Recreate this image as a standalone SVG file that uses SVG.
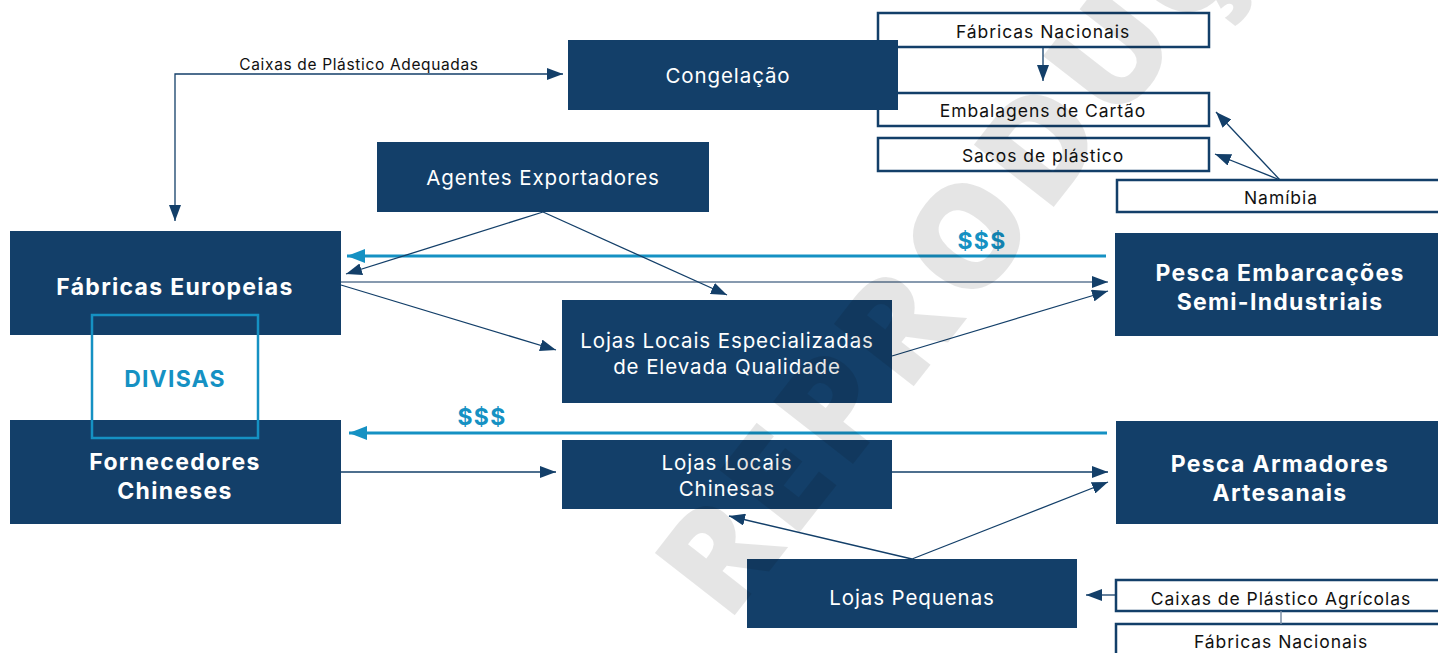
<svg xmlns="http://www.w3.org/2000/svg" width="1438" height="653" viewBox="0 0 1438 653">
<style>
text{font-family:Inter,"Open Sans","Liberation Sans",sans-serif;text-anchor:middle;dominant-baseline:central}
.dk{fill:#133f69}
.wb{fill:#fff;stroke:#133f69;stroke-width:2.5}
.t{fill:#fff;font-size:20.5px;letter-spacing:0.9px}
.tb{fill:#fff;font-size:23px;font-weight:700;letter-spacing:1.3px}
.s{fill:#111;font-size:17.5px;letter-spacing:0.95px}
.c{fill:none;stroke:#133f69;stroke-width:1.3}
.m{fill:none;stroke:#1591c3;stroke-width:3}
.lb{fill:#1591c3;font-size:23px;font-weight:700;letter-spacing:1.2px}
.wm{font-family:"Open Sans",sans-serif;fill:#000;fill-opacity:0.1;font-size:142px;font-weight:800;text-anchor:start;dominant-baseline:auto;letter-spacing:9px}
</style>
<defs>
<marker id="a" viewBox="0 0 16 12" refX="16" refY="6" markerWidth="16" markerHeight="12" markerUnits="userSpaceOnUse" orient="auto-start-reverse"><path d="M0,0L16,6L0,12z" fill="#133f69"/></marker>
<marker id="b" viewBox="0 0 18 14" refX="18" refY="7" markerWidth="18" markerHeight="14" markerUnits="userSpaceOnUse" orient="auto"><path d="M0,0L18,7L0,14z" fill="#1591c3"/></marker>
</defs>

<g id="n-fab-nac-top"><rect class="wb" x="878" y="13" width="331" height="34"/><text class="s" x="1043" y="31">Fábricas Nacionais</text></g>
<g id="n-embalagens"><rect class="wb" x="878" y="93" width="331" height="33"/><text class="s" x="1043" y="110">Embalagens de Cartão</text></g>
<g id="n-sacos"><rect class="wb" x="878" y="138" width="331" height="33"/><text class="s" x="1043" y="155">Sacos de plástico</text></g>
<g id="n-namibia"><rect class="wb" x="1117" y="180" width="330" height="32"/><text class="s" x="1281" y="197">Namíbia</text></g>
<g id="n-congelacao"><rect class="dk" x="568" y="40" width="330" height="70"/><text class="t" x="728" y="75">Congelação</text></g>
<g id="n-agentes"><rect class="dk" x="377" y="142" width="332" height="70"/><text class="t" x="543" y="177">Agentes Exportadores</text></g>
<g id="n-fab-eur"><rect class="dk" x="10" y="231" width="331" height="104"/><text class="tb" x="175" y="287">Fábricas Europeias</text></g>
<g id="n-fornecedores"><rect class="dk" x="10" y="420" width="331" height="104"/><text class="tb" x="175" y="462">Fornecedores<tspan x="175" dy="29">Chineses</tspan></text></g>
<g id="n-lojas-esp"><rect class="dk" x="562" y="300" width="330" height="103"/><text class="t" x="727" y="340">Lojas Locais Especializadas<tspan x="727" dy="26">de Elevada Qualidade</tspan></text></g>
<g id="n-pesca-emb"><rect class="dk" x="1115" y="233" width="330" height="103"/><text class="tb" x="1280" y="273">Pesca Embarcações<tspan x="1280" dy="29">Semi-Industriais</tspan></text></g>
<g id="n-pesca-art"><rect class="dk" x="1116" y="421" width="330" height="103"/><text class="tb" x="1280" y="464">Pesca Armadores<tspan x="1280" dy="29">Artesanais</tspan></text></g>
<g id="n-lojas-chin"><rect class="dk" x="562" y="440" width="330" height="69"/><text class="t" x="727" y="462">Lojas Locais<tspan x="727" dy="26">Chinesas</tspan></text></g>
<g id="n-lojas-peq"><rect class="dk" x="747" y="559" width="330" height="69"/><text class="t" x="912" y="597">Lojas Pequenas</text></g>
<g id="n-caixas-agr"><rect class="wb" x="1116" y="580" width="330" height="31"/><text class="s" x="1281" y="598">Caixas de Plástico Agrícolas</text></g>
<g id="n-fab-nac-bot"><rect class="wb" x="1116" y="624" width="330" height="40"/><text class="s" x="1281" y="641">Fábricas Nacionais</text></g>
<g id="n-divisas"><rect x="92" y="315" width="166" height="123" fill="none" stroke="#1591c3" stroke-width="2.5"/><text class="lb" x="175" y="379">DIVISAS</text></g>

<g id="connectors">
<path class="c" d="M175,221V74H563" marker-start="url(#a)" marker-end="url(#a)"/>
<text x="359" y="64" style="font-size:15.5px;fill:#111;letter-spacing:0.65px">Caixas de Plástico Adequadas</text>
<path class="c" d="M1043,47V81" marker-end="url(#a)"/>
<path class="c" d="M1280,180L1216,112" marker-end="url(#a)"/>
<path class="c" d="M1280,180L1215,154" marker-end="url(#a)"/>
<path class="m" d="M1106,256H347" marker-end="url(#b)"/>
<text class="lb" x="982" y="241">$$$</text>
<path class="c" d="M341,282H1108" marker-end="url(#a)" style="stroke:#5f7894"/>
<path class="c" d="M543,212L346,274" marker-end="url(#a)"/>
<path class="c" d="M543,212L727,295" marker-end="url(#a)"/>
<path class="c" d="M341,285L556,350" marker-end="url(#a)"/>
<path class="c" d="M892,356L1108,291" marker-end="url(#a)"/>
<path class="m" d="M1107,433H349" marker-end="url(#b)"/>
<text class="lb" x="482" y="417">$$$</text>
<path class="c" d="M341,472H556" marker-end="url(#a)"/>
<path class="c" d="M892,472H1108" marker-end="url(#a)"/>
<path class="c" d="M912,559L1108,482" marker-end="url(#a)"/>
<path class="c" d="M912,559L729,516" marker-end="url(#a)"/>
<path class="c" d="M1116,595H1086" marker-end="url(#a)"/>
<path d="M1281,611V624" stroke="#7a8ea5" stroke-width="1.5"/>
</g>

<text class="wm" transform="translate(728,624) rotate(-52)">REPRODUÇÃO</text>
</svg>
